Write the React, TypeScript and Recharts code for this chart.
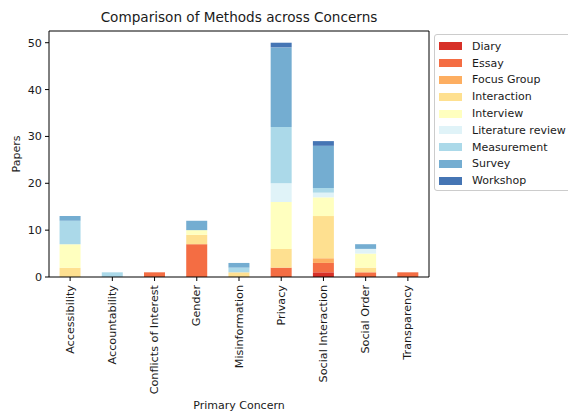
import { BarChart, Bar, XAxis, YAxis, Legend } from "recharts";

const concerns = [
  "Accessibility",
  "Accountability",
  "Conflicts of Interest",
  "Gender",
  "Misinformation",
  "Privacy",
  "Social Interaction",
  "Social Order",
  "Transparency",
];

const diary = [0, 0, 0, 0, 0, 0, 1, 0, 0];
const essay = [0, 0, 1, 7, 0, 2, 2, 1, 1];
const focusGroup = [0, 0, 0, 0, 0, 0, 1, 0, 0];
const interaction = [2, 0, 0, 2, 1, 4, 9, 1, 0];
const interview = [5, 0, 0, 1, 0, 10, 4, 3, 0];
const literatureReview = [0, 0, 0, 0, 0, 4, 1, 1, 0];
const measurement = [5, 1, 0, 0, 1, 12, 1, 0, 0];
const survey = [1, 0, 0, 2, 1, 17, 9, 1, 0];
const workshop = [0, 0, 0, 0, 0, 1, 1, 0, 0];

const yTicks = [0, 10, 20, 30, 40, 50];

const series = [
  { key: "Diary", values: diary, color: "#d73027" },
  { key: "Essay", values: essay, color: "#f46d43" },
  { key: "Focus Group", values: focusGroup, color: "#fdae61" },
  { key: "Interaction", values: interaction, color: "#fee090" },
  { key: "Interview", values: interview, color: "#ffffbf" },
  { key: "Literature review", values: literatureReview, color: "#e0f3f8" },
  { key: "Measurement", values: measurement, color: "#abd9e9" },
  { key: "Survey", values: survey, color: "#74add1" },
  { key: "Workshop", values: workshop, color: "#4575b4" },
];

const data = concerns.map((concern, i) => {
  const row: Record<string, string | number> = { concern };
  series.forEach((s) => {
    row[s.key] = s.values[i];
  });
  return row;
});

const FONT = "'DejaVu Sans', sans-serif";
const TEXT = "#1a1a1a";

const RotatedTick = ({ x, y, payload }: any) => (
  <text
    x={x}
    y={y}
    transform={`rotate(-90, ${x}, ${y})`}
    textAnchor="end"
    dominantBaseline="central"
    fontSize={11.2}
    fontFamily={FONT}
    fill={TEXT}
  >
    {payload.value}
  </text>
);

const LegendBox = () => (
  <div
    style={{
      border: "1px solid #cccccc",
      borderRadius: 3,
      background: "#fff",
      padding: "3px 6px 1px 4px",
      fontFamily: FONT,
      fontSize: 11,
      color: TEXT,
    }}
  >
    {series.map((s) => (
      <div
        key={s.key}
        style={{ display: "flex", alignItems: "center", height: 16.8 }}
      >
        <span
          style={{
            display: "inline-block",
            width: 23,
            height: 8,
            background: s.color,
            marginRight: 10,
          }}
        />
        <span style={{ whiteSpace: "nowrap" }}>{s.key}</span>
      </div>
    ))}
  </div>
);

export default function App() {
  return (
    <div style={{ position: "absolute", left: 0, top: 0, width: 568, height: 413 }}>
      <div
        style={{
          position: "absolute",
          left: 49,
          top: 9,
          width: 380,
          textAlign: "center",
          fontFamily: FONT,
          fontSize: 13.6,
          color: TEXT,
        }}
      >
        Comparison of Methods across Concerns
      </div>
      <BarChart
        width={568}
        height={413}
        data={data}
        margin={{ top: 30, right: 138, left: 0, bottom: 0 }}
        barCategoryGap="25%"
      >
        <XAxis
          dataKey="concern"
          interval={0}
          height={136}
          tick={<RotatedTick />}
          tickSize={4}
          tickMargin={4}
          axisLine={{ stroke: "#000" }}
          tickLine={{ stroke: "#000" }}
          label={{
            value: "Primary Concern",
            position: "insideBottom",
            offset: 4,
            fontSize: 11,
            fontFamily: FONT,
            fill: TEXT,
          }}
        />
        <XAxis
          xAxisId="top"
          dataKey="concern"
          orientation="top"
          height={1}
          tick={false}
          tickLine={false}
          axisLine={{ stroke: "#000" }}
        />
        <YAxis
          width={49}
          domain={[0, 52.5]}
          ticks={yTicks}
          tickSize={4}
          tickMargin={3}
          axisLine={{ stroke: "#000" }}
          tickLine={{ stroke: "#000" }}
          tick={{ fontSize: 11.2, fontFamily: FONT, fill: TEXT }}
          label={{
            content: ({ viewBox }: any) => {
              const cx = viewBox.x + 16;
              const cy = viewBox.y + viewBox.height / 2;
              return (
                <text
                  x={cx}
                  y={cy}
                  transform={`rotate(-90, ${cx}, ${cy})`}
                  textAnchor="middle"
                  dominantBaseline="central"
                  fontSize={11}
                  fontFamily={FONT}
                  fill={TEXT}
                >
                  Papers
                </text>
              );
            },
          }}
        />
        <YAxis
          yAxisId="right"
          orientation="right"
          width={1}
          domain={[0, 52.5]}
          tick={false}
          tickLine={false}
          axisLine={{ stroke: "#000" }}
        />
        {series.map((s) => (
          <Bar
            key={s.key}
            dataKey={s.key}
            stackId="a"
            fill={s.color}
            isAnimationActive={false}
          />
        ))}
        <Legend
          layout="vertical"
          align="center"
          verticalAlign="middle"
          content={<LegendBox />}
          wrapperStyle={{ position: "absolute", left: 434, top: 34, width: "auto", height: "auto" }}
        />
      </BarChart>
    </div>
  );
}
